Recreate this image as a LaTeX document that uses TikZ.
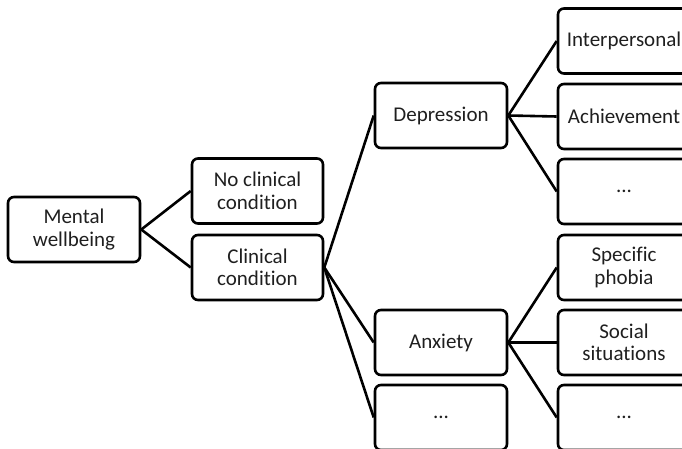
\documentclass[tikz,border=0pt]{standalone}
\usepackage{fontspec}
\setmainfont{Carlito}[RawFeature={-liga}]
\begin{document}
\begin{tikzpicture}[x=1pt,y=-1pt,
  box/.style={draw=black, line width=2.6pt, rounded corners=6pt, minimum width=#1, minimum height=65pt,
    inner sep=0pt, align=center, text=black!88, font=\fontsize{21}{22.5}\selectfont},
  box/.default=131pt,
  link/.style={line width=2.6pt, draw=black}]
\path[use as bounding box] (0,0) rectangle (682,449);
\clip (0,0) rectangle (682,449);
\node[box=132pt] (mw) at (74,229.5) {Mental\\wellbeing};
\node[box] (ncc) at (257.5,191) {No clinical\\condition};
\node[box] (cc) at (257.5,267.5) {Clinical\\condition};
\node[box=132pt] (dep) at (441,115.5) {Depression};
\node[box=132pt] (anx) at (441,342.5) {Anxiety};
\node[box=132pt] (od) at (441,417.5) {...};
\node[box=132pt] (ip) at (624,41) {Interpersonal};
\node[box=132pt] (ach) at (624,116.5) {Achievement};
\node[box=132pt] (dd) at (624,191.5) {...};
\node[box=132pt] (sp) at (624,267.5) {Specific\\phobia};
\node[box=132pt] (ss) at (624,342.5) {Social\\situations};
\node[box=132pt] (ad) at (624,417.5) {...};
\draw[link] (mw.east) -- (ncc.west);
\draw[link] (mw.east) -- (cc.west);
\draw[link] (cc.east) -- (dep.west);
\draw[link] (cc.east) -- (anx.west);
\draw[link] (cc.east) -- (od.west);
\draw[link] (dep.east) -- (ip.west);
\draw[link] (dep.east) -- (ach.west);
\draw[link] (dep.east) -- (dd.west);
\draw[link] (anx.east) -- (sp.west);
\draw[link] (anx.east) -- (ss.west);
\draw[link] (anx.east) -- (ad.west);
\end{tikzpicture}
\end{document}
